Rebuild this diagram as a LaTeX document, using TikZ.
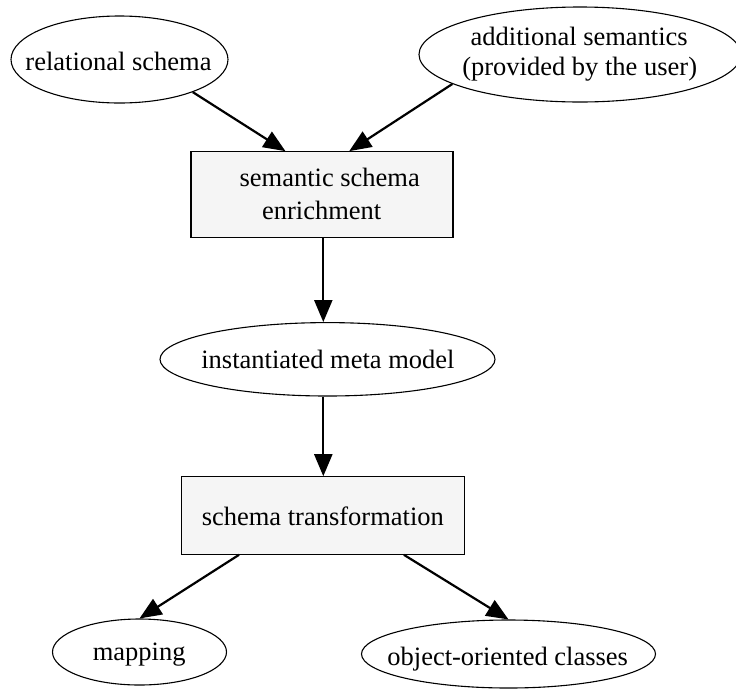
\documentclass[tikz,border=0pt]{standalone}
\usepackage{fontspec}
\setmainfont{Liberation Serif}
\usetikzlibrary{arrows.meta,shapes.geometric}
\begin{document}
\begin{tikzpicture}[x=1pt,y=-1pt,
  ell/.style={draw, ellipse, line width=1.1pt, inner sep=0pt},
  boxn/.style={draw, rectangle, line width=1.1pt, fill=black!4, inner sep=0pt},
  txt/.style={inner sep=0pt, anchor=base, font=\fontsize{26.5}{31}\selectfont},
  edge/.style={line width=2.2pt, -{Triangle[length=22pt,width=18pt]}}
]
\useasboundingbox (0,0) rectangle (736,689);
% nodes
\node[ell, minimum width=217pt, minimum height=87pt] (rel) at (119.5,59.5) {};
\node[txt] (relT) at (118.5,70) {relational schema};
\node[ell, minimum width=322pt, minimum height=95pt] (add) at (580,54.5) {};
\node[txt] (addT1) at (579.2,45) {additional semantics};
\node[txt] (addT2) at (579.7,75) {(provided by the user)};
\node[boxn, minimum width=262pt, minimum height=86pt] (sse) at (322,194.7) {};
\node[txt] (sseT1) at (329.7,186.7) {semantic schema};
\node[txt] (sseT2) at (321.7,219) {enrichment};
\node[ell, minimum width=335pt, minimum height=73.4pt] (imm) at (327.5,359.3) {};
\node[txt] (immT) at (327.9,368) {instantiated meta model};
\node[boxn, minimum width=283pt, minimum height=77.5pt] (st) at (323.3,515.5) {};
\node[txt] (stT) at (322.8,525) {schema transformation};
\node[ell, minimum width=174pt, minimum height=66pt] (map) at (139.5,652) {};
\node[txt] (mapT) at (139.2,660) {mapping};
\node[ell, minimum width=294pt, minimum height=68pt] (ooc) at (508.5,654) {};
\node[txt] (oocT) at (507.7,665) {object-oriented classes};
% edges
\draw[edge] (rel.-24.5) -- (sse.130.7);
\draw[edge] (add.193.9) -- (sse.58.5);
\draw[edge] (st.north |- sse.south) -- (st.north |- imm.north);
\draw[edge] (st.north |- imm.south) -- (st.north);
\draw[edge] (st.205.3) -- (map.north);
\draw[edge] (st.334.7) -- (ooc.north);
\end{tikzpicture}
\end{document}
